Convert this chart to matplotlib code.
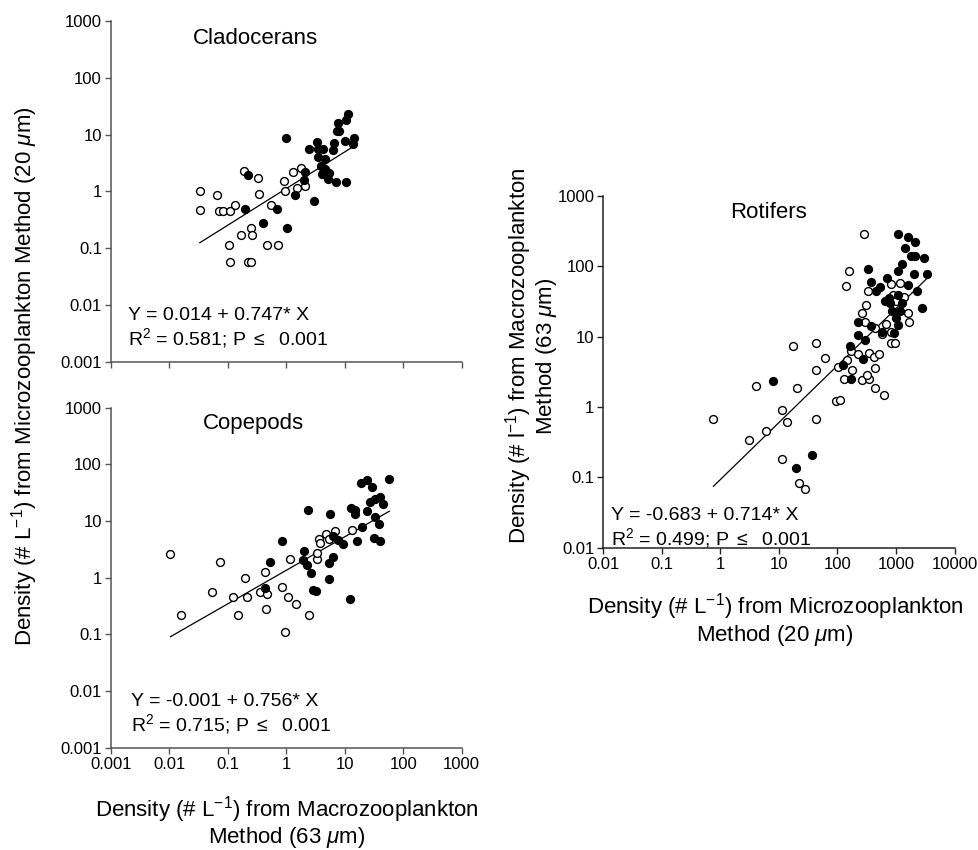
import numpy as np
import matplotlib
matplotlib.use("Agg")
import matplotlib.pyplot as plt
from matplotlib.ticker import FixedLocator, FuncFormatter, NullLocator

plt.rcParams["font.family"] = ["Liberation Sans", "DejaVu Sans"]
plt.rcParams["mathtext.fontset"] = "custom"
plt.rcParams["mathtext.rm"] = "Liberation Sans"
plt.rcParams["mathtext.it"] = "Liberation Sans:italic"

# Cladocerans: x = macro (63 um), y = micro (20 um)
clad_open_x = [0.033, 0.033, 0.064, 0.070, 0.082, 0.109, 0.134, 0.189, 0.328, 0.345,
               0.252, 0.255, 0.170, 0.105, 0.109, 0.221, 0.249, 0.461, 0.711, 0.554,
               0.925, 0.96, 1.28, 1.76, 1.54, 2.06]
clad_open_y = [1.0, 0.475, 0.86, 0.456, 0.456, 0.456, 0.567, 2.31, 1.72, 0.91,
               0.229, 0.170, 0.170, 0.113, 0.056, 0.056, 0.056, 0.113, 0.113, 0.567,
               1.54, 1.03, 2.16, 2.55, 1.16, 1.24]
clad_fill_x = [0.221, 0.194, 0.40, 0.70, 1.01, 0.99, 1.39, 2.0, 2.06, 2.97,
               2.47, 3.39, 3.43, 4.29, 3.48, 4.64, 3.86, 4.52, 4.07, 5.43,
               5.15, 7.06, 10.5, 6.2, 6.53, 7.25, 8.05, 7.64, 10.5, 11.3,
               10.2, 14.5, 14.0]
clad_fill_y = [1.92, 0.48, 0.28, 0.48, 0.229, 8.7, 0.85, 1.61, 2.19, 0.67,
               5.65, 7.4, 5.65, 5.65, 4.03, 3.72, 2.84, 2.51, 2.05, 2.11,
               1.65, 1.44, 1.44, 5.43, 7.1, 11.4, 11.4, 16.0, 18.4, 23.4,
               7.7, 8.8, 6.9]

# Copepods
cope_open_x = [0.0104, 0.0156, 0.0735, 0.053, 0.121, 0.147, 0.194, 0.21, 0.36, 0.438,
               0.468, 0.455, 0.843, 1.08, 1.46, 0.96, 2.47, 1.17, 3.30, 3.35,
               3.67, 3.81, 4.76, 5.43, 6.7, 13.3]
cope_open_y = [2.58, 0.225, 1.92, 0.567, 0.45, 0.225, 1.01, 0.45, 0.567, 1.29,
               0.508, 0.284, 0.675, 0.45, 0.339, 0.112, 0.225, 2.11, 2.11, 2.76,
               4.81, 4.03, 5.89, 4.74, 6.74, 7.03]
cope_fill_x = [2.32, 5.57, 0.855, 0.526, 0.438, 2.0, 1.90, 2.23, 2.68, 2.89,
               3.26, 5.43, 5.30, 6.2, 6.36, 7.64, 9.18, 12.3, 12.9, 15.1,
               15.1, 15.9, 19.1, 24, 29.5, 58, 33, 40, 27, 24,
               33, 38, 32, 40, 20, 45]
cope_fill_y = [15.6, 13.1, 4.5, 1.89, 0.65, 2.99, 2.05, 1.70, 1.22, 0.61,
               0.59, 0.95, 1.79, 2.28, 5.43, 4.62, 3.87, 0.426, 17.2, 15.6,
               13.6, 4.43, 46.8, 53, 39.8, 55, 25, 27, 22, 15,
               12, 9, 5, 4.5, 8, 20]

# Rotifers: x = micro (20 um), y = macro (63 um)
roti_open_x = [0.76, 3.09, 5.96, 11.2, 14.0, 4.02, 20.7, 17.5, 42.6, 43.2,
               61.5, 43.8, 11.2, 22.1, 28.0, 93.7, 111, 103, 130, 146,
               176, 171, 220, 264, 339, 317, 352, 424, 509, 440,
               446, 620, 290, 435, 573, 662, 826, 826, 968, 1660,
               286, 158, 139, 326, 309, 828, 1180, 885, 1010, 1363,
               258, 1574]
roti_open_y = [0.68, 0.343, 0.45, 0.906, 0.61, 1.97, 1.86, 7.45, 8.05, 3.32,
               4.98, 0.675, 0.182, 0.082, 0.0675, 1.22, 1.27, 3.75, 2.53, 4.71,
               3.32, 6.33, 5.74, 2.39, 2.48, 2.88, 5.86, 5.14, 5.74, 3.59,
               1.86, 1.47, 16.0, 13.3, 10.9, 15.0, 11.7, 8.13, 8.13, 16.4,
               292, 85.7, 52.5, 44.2, 28.5, 56.1, 58, 39.5, 31.8, 36.6,
               21.7, 21.7]
roti_fill_x = [8.05, 36.0, 19.4, 123, 173, 165, 297, 275, 220, 225,
               371, 588, 1007, 942, 1075, 1076, 1575, 2103, 1796, 2130,
               2958, 1277, 326, 1062, 2047, 3327, 689, 377, 1575, 537,
               459, 2275, 745, 1062, 796, 1259, 2768, 1148, 849, 637,
               1400]
roti_fill_y = [2.32, 0.21, 0.136, 4.0, 2.5, 7.45, 8.88, 4.82, 10.5, 16.0,
               14.4, 11.8, 18.5, 11.3, 14.8, 288, 261, 222, 142, 142,
               131, 109, 92.5, 84.9, 78.7, 77.9, 68.4, 60, 55, 50.4,
               44.2, 45.1, 35.5, 39.5, 30.1, 30.1, 25.6, 22.9, 22.9, 32.5,
               183]

# regression lines as drawn (log10 intercept, slope)
clad_line = (0.05, 0.645)
cope_line = (0.133, 0.591)
roti_line = (-1.03, 0.81)

clad_eq = ["Y = 0.014 + 0.747* X", "R$^2$ = 0.581; P $\\leq$  0.001"]
cope_eq = ["Y = -0.001 + 0.756* X", "R$^2$ = 0.715; P $\\leq$  0.001"]
roti_eq = ["Y = -0.683 + 0.714* X", "R$^2$ = 0.499; P $\\leq$  0.001"]

fig = plt.figure(figsize=(9.79, 8.5), dpi=100)
ax1 = fig.add_axes([0.1134, 0.5745, 0.3582, 0.4008])
ax2 = fig.add_axes([0.1134, 0.1202, 0.3582, 0.4001])
ax3 = fig.add_axes([0.6163, 0.3556, 0.3587, 0.4138])


def fmt(v, pos):
    return "{:g}".format(v)


def draw_panel(ax, xo, yo, xf, yf, line, lims_x, lims_y, spine_col):
    ax.set_xscale("log")
    ax.set_yscale("log")
    allx = np.array(xo + xf)
    xs = np.array([allx.min(), allx.max()])
    ax.plot(xs, 10 ** (line[0] + line[1] * np.log10(xs)), color="black", lw=0.9, zorder=2)
    ax.scatter(xo, yo, s=32, facecolor="white", edgecolor="black", linewidth=1.0, zorder=3)
    ax.scatter(xf, yf, s=32, facecolor="black", edgecolor="black", linewidth=1.0, zorder=3)
    ax.set_xlim(*lims_x)
    ax.set_ylim(*lims_y)
    for s in ["top", "right"]:
        ax.spines[s].set_visible(False)
    for s in ["left", "bottom"]:
        ax.spines[s].set_color(spine_col)
        ax.spines[s].set_linewidth(1.1)
    decx = 10.0 ** np.arange(np.log10(lims_x[0]), np.log10(lims_x[1]) + 1)
    decy = 10.0 ** np.arange(np.log10(lims_y[0]), np.log10(lims_y[1]) + 1)
    ax.xaxis.set_major_locator(FixedLocator(decx))
    ax.yaxis.set_major_locator(FixedLocator(decy))
    ax.xaxis.set_minor_locator(NullLocator())
    ax.yaxis.set_minor_locator(NullLocator())
    ax.xaxis.set_major_formatter(FuncFormatter(fmt))
    ax.yaxis.set_major_formatter(FuncFormatter(fmt))
    ax.tick_params(direction="out", length=4, width=1, color=spine_col,
                   labelsize=12, pad=2.5)


draw_panel(ax1, clad_open_x, clad_open_y, clad_fill_x, clad_fill_y, clad_line,
           (0.001, 1000), (0.001, 1000), "#555555")
draw_panel(ax2, cope_open_x, cope_open_y, cope_fill_x, cope_fill_y, cope_line,
           (0.001, 1000), (0.001, 1000), "#555555")
draw_panel(ax3, roti_open_x, roti_open_y, roti_fill_x, roti_fill_y, roti_line,
           (0.01, 10000), (0.01, 1000), "#222222")
ax1.tick_params(axis="x", labelbottom=False)

# panel titles
ax1.text(0.413, 0.950, "Cladocerans", transform=ax1.transAxes, ha="center", va="center", fontsize=16)
ax2.text(0.407, 0.955, "Copepods", transform=ax2.transAxes, ha="center", va="center", fontsize=16)
ax3.text(0.470, 0.952, "Rotifers", transform=ax3.transAxes, ha="center", va="center", fontsize=16)

# equations
for ax, eq, x0, y1, y2 in [(ax1, clad_eq, 0.049, 0.137, 0.069),
                           (ax2, cope_eq, 0.056, 0.136, 0.070),
                           (ax3, roti_eq, 0.021, 0.093, 0.027)]:
    ax.text(x0, y1, eq[0], transform=ax.transAxes, ha="left", va="center", fontsize=14)
    ax.text(x0, y2, eq[1], transform=ax.transAxes, ha="left", va="center", fontsize=14)

# axis labels
W, H = 979.0, 850.0
fig.text(25 / W, 1 - 376 / H, "Density (# L$^{-1}$) from Microzooplankton Method (20 $\\mu$m)",
         rotation=90, ha="center", va="center", fontsize=16)
fig.text(287 / W, 1 - 822 / H, "Density (# L$^{-1}$) from Macrozooplankton\nMethod (63 $\\mu$m)",
         ha="center", va="center", fontsize=16, linespacing=1.02)
fig.text(775 / W, 1 - 620 / H, "Density (# L$^{-1}$) from Microzooplankton\nMethod (20 $\\mu$m)",
         ha="center", va="center", fontsize=16, linespacing=1.05)
fig.text(531 / W, 1 - 356 / H, "Density (# l$^{-1}$) from Macrozooplankton\nMethod (63 $\\mu$m)",
         rotation=90, ha="center", va="center", fontsize=16, linespacing=1.0)

fig.savefig("out.png", dpi=100)
